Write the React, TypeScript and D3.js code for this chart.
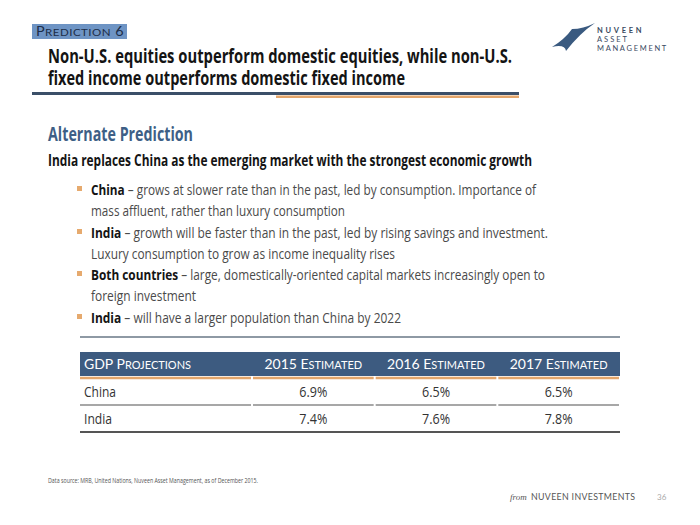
import React from "react";
import * as d3 from "d3";

const titleLines = [
  "Non-U.S. equities outperform domestic equities, while non-U.S.",
  "fixed income outperforms domestic fixed income",
];
const subTitle = "Alternate Prediction";
const headline = "India replaces China as the emerging market with the strongest economic growth";
const bulletItems = [
  { lead: "China", lines: [" – grows at slower rate than in the past, led by consumption. Importance of", "mass affluent, rather than luxury consumption"] },
  { lead: "India", lines: [" – growth will be faster than in the past, led by rising savings and investment.", "Luxury consumption to grow as income inequality rises"] },
  { lead: "Both countries", lines: [" – large, domestically-oriented capital markets increasingly open to", "foreign investment"] },
  { lead: "India", lines: [" – will have a larger population than China by 2022"] },
];
const countries = ["China", "India"];
const years = ["2015", "2016", "2017"];
const gdpChina = [6.9, 6.5, 6.5];
const gdpIndia = [7.4, 7.6, 7.8];
const source = "Data source: MRB, United Nations, Nuveen Asset Management, as of December 2015.";

const COND = "'Open Sans', sans-serif";
const GILL = "Lato, 'Open Sans', sans-serif";

function SmallCaps({ x, y, text, big, small, fill, anchor, ls, tl }: any) {
  const parts: { t: string; b: boolean }[] = [];
  for (const ch of text) {
    const b = !(ch >= "a" && ch <= "z");
    const t = b ? ch : ch.toUpperCase();
    if (parts.length && parts[parts.length - 1].b === b) parts[parts.length - 1].t += t;
    else parts.push({ t, b });
  }
  return (
    <text x={x} y={y} fill={fill} fontFamily={GILL} textAnchor={anchor || "start"} letterSpacing={ls || 0}
      textLength={tl} lengthAdjust={tl ? "spacingAndGlyphs" : undefined}>
      {parts.map((p, i) => (
        <tspan key={i} fontSize={p.b ? big : small}>{p.t}</tspan>
      ))}
    </text>
  );
}

export default function App() {
  const W = 700, H = 525;
  const tableX0 = 80, tableX1 = 620, firstColEnd = 252;
  const colScale = d3.scaleBand<string>().domain(years).range([firstColEnd, tableX1]);
  const rowScale = d3.scaleBand<string>().domain(countries).range([378, 432]);
  const rows = [gdpChina, gdpIndia];
  const fmt = d3.format(".1f");

  const bulletBaselines = [195, 216, 238, 259, 280, 301, 323];
  const bulletWidths = [445, 254, 457, 304, 454, 105, 310];
  let li = 0;

  const segs = [[tableX0, firstColEnd - 1], ...years.map((y) => [colScale(y)! + 1, colScale(y)! + colScale.bandwidth() - 1])];

  return (
    <svg width={W} height={H} style={{ position: "absolute", left: 0, top: 0, background: "#fff" }}>
      <rect x={0} y={0} width={W} height={H} fill="#fff" />
      {/* Prediction label */}
      <rect x={32} y={24} width={95} height={15} fill="#6e94c4" />
      <SmallCaps x={36} y={36} text="Prediction 6" big={12.5} small={10} fill="#1c2d48" tl={88} ls={0.4} />

      {/* Title */}
      {titleLines.map((t, i) => (
        <text key={i} x={48} y={63 + i * 21.5} fontFamily={COND} fontSize={20} fontWeight={700} fill="#141414"
          textLength={i === 0 ? 464 : 357} lengthAdjust="spacingAndGlyphs">{t}</text>
      ))}
      <line x1={32} x2={519} y1={93.5} y2={93.5} stroke="#3b4f68" strokeWidth={3} />
      <line x1={276} x2={519} y1={96.8} y2={96.8} stroke="#e3a56a" strokeWidth={2.4} />

      {/* Logo */}
      <path d="M552,47 Q565,39 572,29 Q583,29 595,23 Q580,33 566,51 Q565,44 552,47 Z" fill="#3a5a80" />
      <text x={597} y={33} fontFamily={GILL} fontSize={7.5} fontWeight={700} fill="#3a4a62" letterSpacing={2.7}>NUVEEN</text>
      <text x={597} y={42} fontFamily={GILL} fontSize={7.5} fill="#3a4a62" letterSpacing={2}>ASSET</text>
      <text x={597} y={51} fontFamily={GILL} fontSize={7.5} fill="#3a4a62" letterSpacing={1.7}>MANAGEMENT</text>

      {/* Subheads */}
      <text x={48} y={141} fontFamily={COND} fontSize={19} fontWeight={700} fill="#3e5f86" textLength={145} lengthAdjust="spacingAndGlyphs">{subTitle}</text>
      <text x={48} y={166} fontFamily={COND} fontSize={15.5} fontWeight={700} fill="#141414" textLength={484} lengthAdjust="spacingAndGlyphs">{headline}</text>

      {/* Bullets */}
      {bulletItems.map((b, bi) => (
        <g key={bi}>
          <rect x={77} y={bulletBaselines[li] - 9} width={5} height={5} fill="#e6aa6e" />
          {b.lines.map((ln, k) => {
            const idx = li++;
            return (
              <text key={k} x={91} y={bulletBaselines[idx]} fontFamily={COND} fontSize={14} fill="#4a4a4a"
                textLength={bulletWidths[idx]} lengthAdjust="spacingAndGlyphs">
                {k === 0 && <tspan fontWeight={700} fill="#141414">{b.lead}</tspan>}
                {ln}
              </text>
            );
          })}
        </g>
      ))}
      <line x1={80} x2={620} y1={337} y2={337} stroke="#8e99a4" strokeWidth={2.2} />

      {/* Table */}
      <rect x={tableX0} y={352} width={tableX1 - tableX0} height={24} fill="#3d5b80" />
      <SmallCaps x={84} y={369} text="GDP Projections" big={14} small={11} fill="#fff" />
      {years.map((y) => (
        <SmallCaps key={y} x={colScale(y)! + colScale.bandwidth() / 2} y={369} text={`${y} Estimated`} big={14} small={11} fill="#fff" anchor="middle" />
      ))}
      {segs.map((s, i) => (
        <line key={"o" + i} x1={s[0]} x2={s[1]} y1={378} y2={378} stroke="#e3a56a" strokeWidth={2.5} />
      ))}
      {countries.map((c, ri) => {
        const y0 = rowScale(c)!;
        const cy = y0 + rowScale.bandwidth() / 2 + 5;
        return (
          <g key={c}>
            <text x={84} y={cy} fontFamily={COND} fontSize={14} fill="#333" textLength={c === "China" ? 32 : 28} lengthAdjust="spacingAndGlyphs">{c}</text>
            {years.map((y, yi) => (
              <text key={y} x={colScale(y)! + colScale.bandwidth() / 2} y={cy} textAnchor="middle" fontFamily={COND} fontSize={14} fill="#333"
                textLength={28} lengthAdjust="spacingAndGlyphs">
                {fmt(rows[ri][yi]) + "%"}
              </text>
            ))}
            {ri === 0 && segs.map((s, i) => (
              <line key={"r" + i} x1={s[0]} x2={s[1]} y1={y0 + rowScale.bandwidth()} y2={y0 + rowScale.bandwidth()} stroke="#8a8a8a" strokeWidth={1.5} />
            ))}
          </g>
        );
      })}
      <line x1={tableX0} x2={tableX1} y1={432} y2={432} stroke="#555" strokeWidth={2} />

      {/* Footer */}
      <text x={48} y={483} fontFamily={COND} fontSize={6.5} fill="#555" textLength={210} lengthAdjust="spacingAndGlyphs">{source}</text>
      <text x={510} y={500} fontFamily="'Liberation Serif', serif" fontStyle="italic" fontSize={9} fill="#555">from</text>
      <text x={531} y={500} fontFamily={GILL} fontSize={8.8} fill="#555" letterSpacing={1} textLength={105} lengthAdjust="spacing">NUVEEN INVESTMENTS</text>
      <text x={657} y={500} fontFamily={GILL} fontSize={8} fill="#aaa">36</text>
    </svg>
  );
}
